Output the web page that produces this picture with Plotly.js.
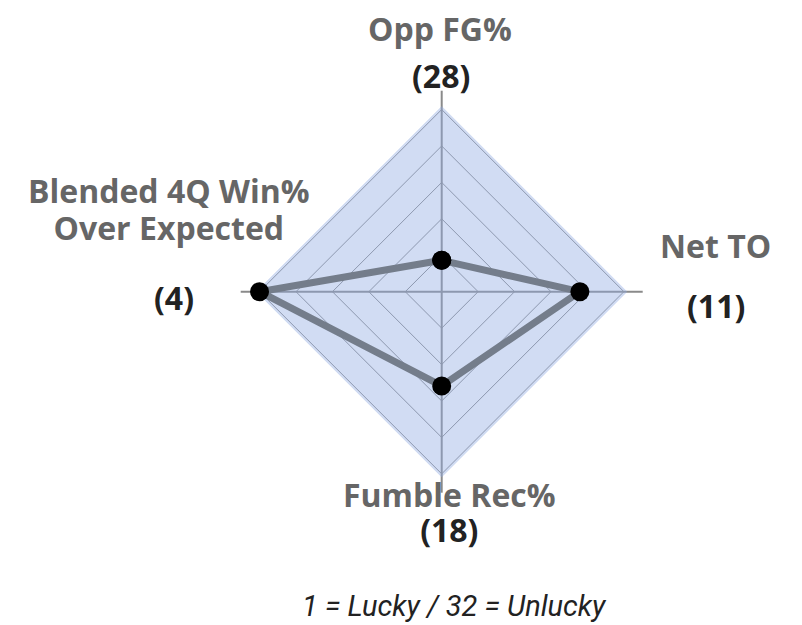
<!DOCTYPE html>
<html>
<head>
<meta charset="utf-8">
<script src="https://cdn.plot.ly/plotly-3.0.1.min.js"></script>
<style>html,body{margin:0;padding:0;background:#fff;}#chart{width:802px;height:625px;}</style>
</head>
<body>
<div id="chart"></div>
<script>
// Categories (clockwise from top) and their ranks (1 = Lucky / 32 = Unlucky)
const categories = ["Opp FG%", "Net TO", "Fumble Rec%", "Blended 4Q Win% Over Expected"];
const labelLines = [["Opp FG%"], ["Net TO"], ["Fumble Rec%"], ["Blended 4Q Win%", "Over Expected"]];
const ranks = [28, 11, 18, 4];
const teamCount = 32;
const note = "1 = Lucky / 32 = Unlucky";

// plotted value: higher = luckier (outer)
const values = ranks.map(r => teamCount + 1 - r);
const maxValue = teamCount + 1 - 4; // outer ring
const ringVals = [1, 2, 3, 4, 5].map(i => +(maxValue * i / 5).toFixed(2));

const W = 802, H = 625;
const cx = 441.7, cy = 291.7, R = 201;
const px = x => x / W, py = y => 1 - y / H;

const bgTrace = {
  type: "scatterpolar",
  r: categories.map(() => maxValue + 0.5).concat([maxValue + 0.5]),
  theta: categories.concat([categories[0]]),
  mode: "lines",
  fill: "toself",
  fillcolor: "rgba(145,172,226,0.42)",
  line: {color: "rgba(145,172,226,0.2)", width: 1},
  hoverinfo: "skip",
  showlegend: false
};

const dataTrace = {
  type: "scatterpolar",
  r: values.concat([values[0]]),
  theta: categories.concat([categories[0]]),
  mode: "lines+markers",
  line: {color: "#747d8b", width: 7},
  marker: {color: "#000000", size: 19},
  showlegend: false
};

const FONT = "'Open Sans', Roboto, 'DejaVu Sans', sans-serif";
const GRAY = "#666666", DARK = "#222222";

function gray(t) { return "<span style='color:" + GRAY + ";font-size:32px'>" + t + "</span>"; }
function dark(t) { return "<span style='color:" + DARK + ";font-size:32px'>" + t + "</span>"; }

// baseSize controls the line spacing (1.3 x size) of a multi-line text block
function ann(text, x, y, baseSize) {
  return {text: text, x: px(x), y: py(y), xref: "paper", yref: "paper",
          xanchor: "center", yanchor: "middle", align: "center", showarrow: false,
          font: {family: FONT, size: baseSize, color: GRAY, weight: 700}};
}

const annotations = [
  ann(gray(labelLines[0][0]), 440, 29, 32),
  ann(dark("(" + ranks[0] + ")"), 441, 75, 32),
  ann(gray(labelLines[1][0]), 715, 245, 32),
  ann(dark("(" + ranks[1] + ")"), 715.5, 305, 32),
  ann(gray(labelLines[2][0]) + "<br>" + dark("(" + ranks[2] + ")"), 449, 512, 26.8),
  ann(gray(labelLines[3][0]) + "<br>" + gray(labelLines[3][1]), 169, 209.5, 28.7),
  ann(dark("(" + ranks[3] + ")"), 174, 297, 32),
  {text: note, x: px(454), y: py(606), xref: "paper", yref: "paper",
   xanchor: "center", yanchor: "middle", showarrow: false,
   font: {family: "Roboto, 'DejaVu Sans', sans-serif", size: 29, color: DARK, style: "italic"}}
];

const layout = {
  width: W, height: H,
  margin: {l: 0, r: 0, t: 0, b: 0},
  paper_bgcolor: "#ffffff",
  showlegend: false,
  polar: {
    domain: {x: [px(cx - R), px(cx + R)], y: [py(cy + R), py(cy - R)]},
    gridshape: "linear",
    bgcolor: "rgba(0,0,0,0)",
    radialaxis: {
      range: [0, teamCount],
      tickvals: ringVals,
      showticklabels: false,
      ticks: "",
      showline: false,
      gridcolor: "#8a8a8a",
      gridwidth: 1
    },
    angularaxis: {
      type: "category",
      categoryarray: categories,
      rotation: 90,
      direction: "clockwise",
      showticklabels: false,
      ticks: "",
      showline: false,
      gridcolor: "#8a8a8a",
      gridwidth: 2
    }
  },
  annotations: annotations
};

Plotly.newPlot("chart", [bgTrace, dataTrace], layout, {displayModeBar: false, staticPlot: true});
</script>
</body>
</html>
